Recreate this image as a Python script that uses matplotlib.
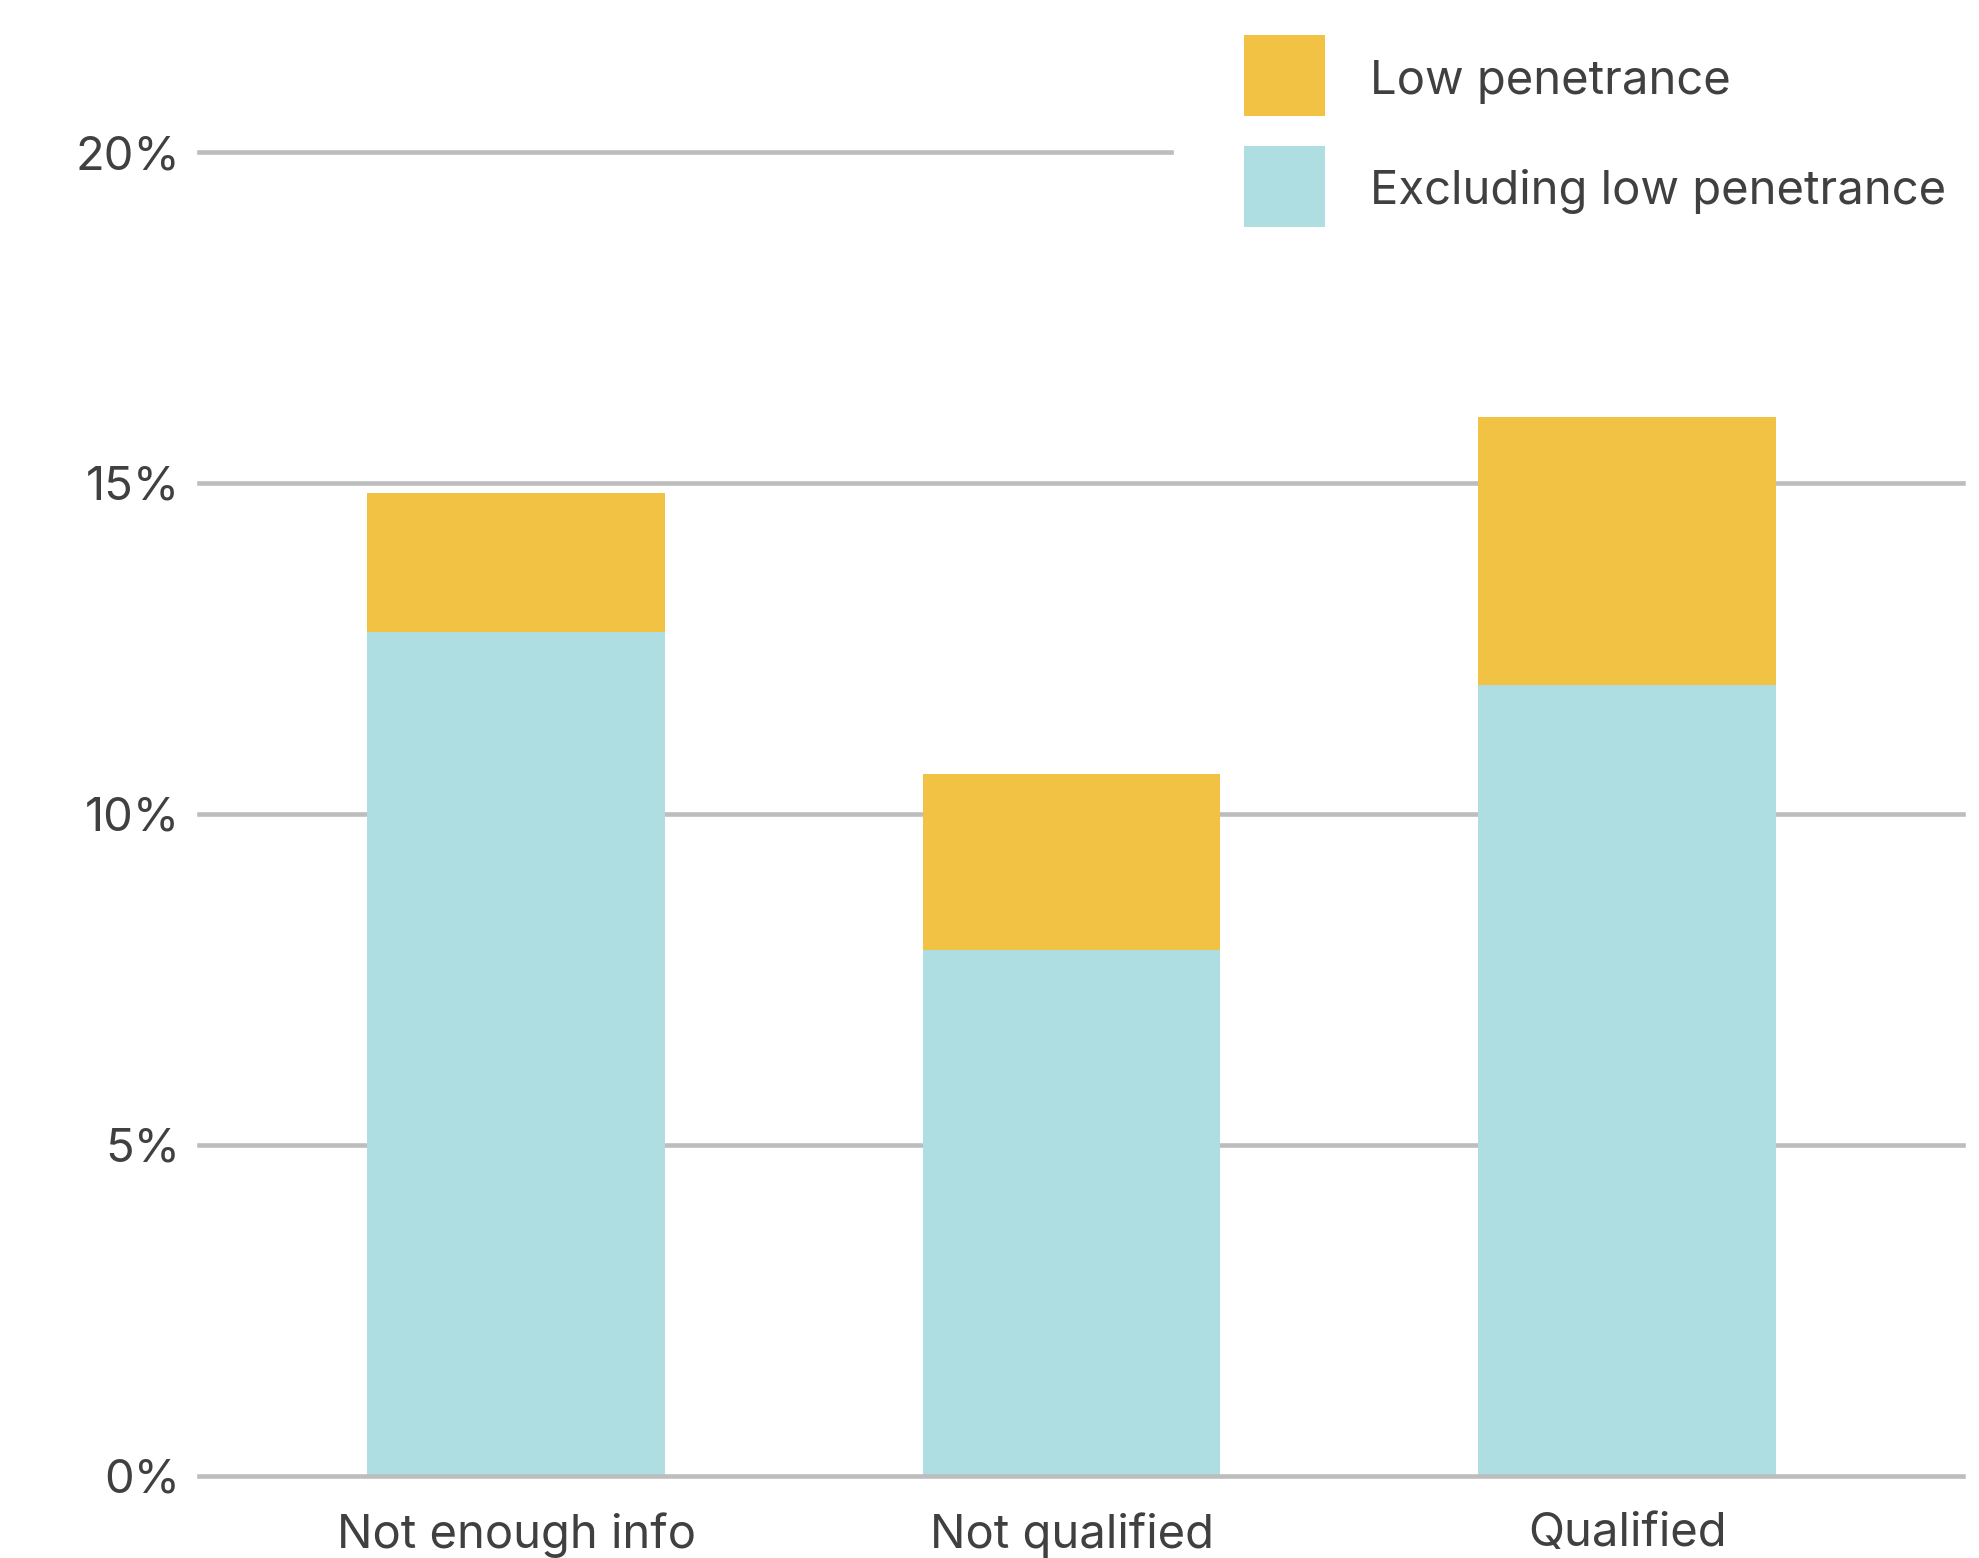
import matplotlib
matplotlib.use("Agg")
import matplotlib.pyplot as plt
from matplotlib.patches import Rectangle

categories = ["Not enough info", "Not qualified", "Qualified"]
excluding_low = [12.75, 7.95, 11.95]
low_penetrance = [2.1, 2.65, 4.05]
y_ticks = [0, 5, 10, 15, 20]
y_tick_labels = ["0%", "5%", "10%", "15%", "20%"]
series_names = ["Low penetrance", "Excluding low penetrance"]

YELLOW = "#F2C244"
BLUE = "#AEDEE2"
GRID = "#BDBDBD"
TEXT = "#404040"
FS = 34

plt.rcParams["font.family"] = ["Inter", "DejaVu Sans"]

W, H = 1979, 1558
fig = plt.figure(figsize=(W / 100, H / 100), dpi=100)
left, right = 199.4 / W, 1962.6 / W
bottom, top = 1 - 1475.7 / H, 1 - 152 / H
ax = fig.add_axes([left, bottom, right - left, top - bottom])

x = list(range(len(categories)))
ax.bar(x, excluding_low, width=0.536, color=BLUE, zorder=2)
ax.bar(x, low_penetrance, bottom=excluding_low, width=0.536, color=YELLOW, zorder=2)

ax.set_xlim(-0.570, 2.604)
ax.set_ylim(0, 20)

# horizontal gridlines; the top one stops short of the legend
for t in y_ticks:
    xmax = (1171 - 199.4) / (1962.6 - 199.4) if t == y_ticks[-1] else 1.0
    ax.axhline(t, xmin=0, xmax=xmax, color=GRID, lw=3.3,
               zorder=3 if t == 0 else 1, clip_on=False)

for s in ax.spines.values():
    s.set_visible(False)

ax.set_yticks(y_ticks)
ax.set_yticklabels(y_tick_labels)
ax.set_xticks(x)
ax.set_xticklabels(categories)
ax.tick_params(axis="y", length=0, pad=14, labelsize=FS, labelcolor=TEXT)
ax.tick_params(axis="x", length=0, pad=26, labelsize=FS, labelcolor=TEXT)

# legend drawn as swatches with labels
swatch = 81
for i, (name, col) in enumerate(zip(series_names, [YELLOW, BLUE])):
    y0 = 35 + i * 110.5
    fig.add_artist(Rectangle((1243.5 / W, 1 - (y0 + swatch) / H), swatch / W, swatch / H,
                             transform=fig.transFigure, color=col, lw=0))
    fig.text(1370 / W, 1 - (y0 + swatch / 2 + 6) / H, name, fontsize=FS,
             color=TEXT, va="center", ha="left")

fig.savefig("out.png", dpi=100)
